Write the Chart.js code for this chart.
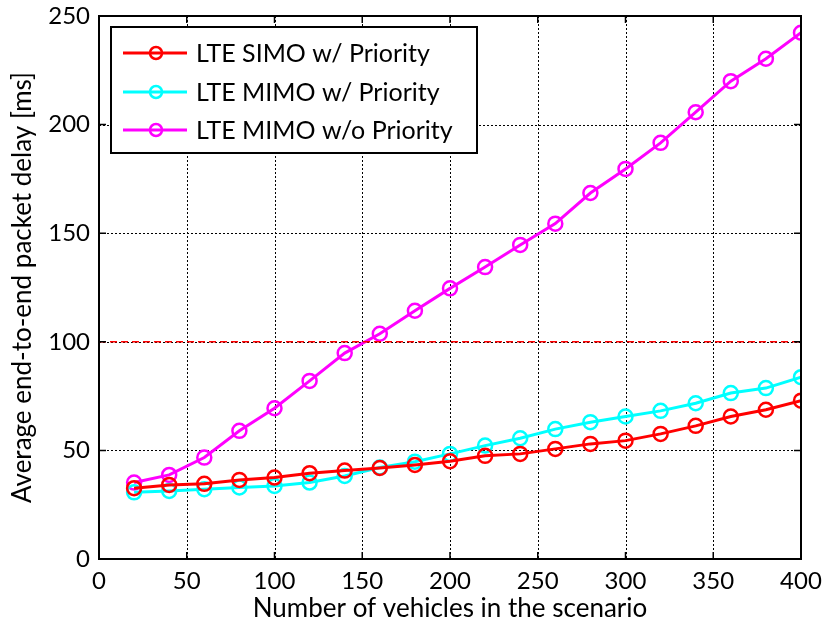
<!DOCTYPE html>
<html>
<head>
<meta charset="utf-8">
<script src="https://cdn.jsdelivr.net/npm/chart.js@4.4.0/dist/chart.umd.min.js"></script>
<style>
  html, body { margin: 0; padding: 0; background: #fff; }
  #wrap { width: 825px; height: 630px; }
</style>
</head>
<body>
<div id="wrap"><canvas id="myChart" width="825" height="630"></canvas></div>
<script>
// vehicles in the scenario
const vehicles = [20, 40, 60, 80, 100, 120, 140, 160, 180, 200, 220, 240, 260, 280, 300, 320, 340, 360, 380, 400];
// average delay [ms]
const simoPrio   = [32.6, 34.1, 34.6, 36.4, 37.5, 39.5, 40.7, 41.9, 43.3, 45.0, 47.5, 48.4, 50.7, 53.0, 54.5, 57.6, 61.3, 65.6, 68.7, 72.9];
const mimoPrio   = [30.7, 31.3, 32.1, 32.9, 33.6, 35.2, 38.2, 42.1, 44.8, 48.4, 52.2, 55.6, 59.8, 63.0, 65.6, 68.2, 71.7, 76.4, 78.7, 83.7];
const mimoNoPrio = [35.2, 38.7, 46.7, 59.0, 69.4, 82.0, 94.8, 103.7, 114.3, 124.6, 134.4, 144.6, 154.4, 168.5, 179.6, 191.6, 205.7, 220.0, 230.3, 242.3];
const limitX = [0, 400];
const limitY = [100, 100];
const xTicks = [0, 50, 100, 150, 200, 250, 300, 350, 400];
const yTicks = [0, 50, 100, 150, 200, 250];
const seriesNames = ['LTE SIMO w/ Priority', 'LTE MIMO w/ Priority', 'LTE MIMO w/o Priority'];
const seriesColors = ['#ff0000', '#00ffff', '#ff00ff'];

const FONT = 'Lato, "Open Sans", sans-serif';

function toPoints(xs, ys) {
  return xs.map(function(x, i) { return { x: x, y: ys[i] }; });
}

function series(i, values) {
  return {
    label: seriesNames[i],
    data: toPoints(vehicles, values),
    borderColor: seriesColors[i],
    backgroundColor: 'rgba(0,0,0,0)',
    borderWidth: 3,
    pointRadius: 7,
    pointBorderWidth: 2.5,
    pointBackgroundColor: 'rgba(0,0,0,0)',
    pointBorderColor: seriesColors[i],
    tension: 0
  };
}

// dotted grid, drawn under the lines
const gridPlugin = {
  id: 'dotgrid',
  beforeDatasetsDraw: function(chart) {
    const ctx = chart.ctx;
    const a = chart.chartArea;
    const xs = chart.scales.x, ys = chart.scales.y;
    ctx.save();
    ctx.strokeStyle = '#000';
    ctx.lineWidth = 1;
    ctx.setLineDash([2, 2]);
    ctx.beginPath();
    xTicks.forEach(function(v) {
      const px = Math.round(xs.getPixelForValue(v)) + 0.5;
      ctx.moveTo(px, a.top); ctx.lineTo(px, a.bottom);
    });
    yTicks.forEach(function(v) {
      const py = Math.round(ys.getPixelForValue(v)) + 0.5;
      ctx.moveTo(a.left, py); ctx.lineTo(a.right, py);
    });
    ctx.stroke();
    ctx.restore();
  }
};

// frame, inward ticks and the legend box
const framePlugin = {
  id: 'frame',
  afterDraw: function(chart) {
    const ctx = chart.ctx;
    const a = chart.chartArea;
    const xs = chart.scales.x, ys = chart.scales.y;
    ctx.save();
    ctx.strokeStyle = '#000';
    ctx.lineWidth = 1.5;
    ctx.setLineDash([]);
    ctx.beginPath();
    xTicks.forEach(function(v) {
      const px = xs.getPixelForValue(v);
      ctx.moveTo(px, a.bottom); ctx.lineTo(px, a.bottom - 7);
      ctx.moveTo(px, a.top); ctx.lineTo(px, a.top + 7);
    });
    yTicks.forEach(function(v) {
      const py = ys.getPixelForValue(v);
      ctx.moveTo(a.left, py); ctx.lineTo(a.left + 7, py);
      ctx.moveTo(a.right, py); ctx.lineTo(a.right - 7, py);
    });
    ctx.stroke();
    ctx.lineWidth = 2;
    ctx.strokeRect(a.left, a.top, a.right - a.left, a.bottom - a.top);

    // legend
    const lx = 111, ly = 27, lw = 366, lh = 126;
    ctx.fillStyle = '#fff';
    ctx.fillRect(lx, ly, lw, lh);
    ctx.lineWidth = 2;
    ctx.strokeRect(lx, ly, lw, lh);
    ctx.font = '25px ' + FONT;
    ctx.textBaseline = 'middle';
    const rows = [53, 92, 130];
    seriesNames.forEach(function(name, i) {
      const y = rows[i];
      ctx.strokeStyle = seriesColors[i];
      ctx.lineWidth = 3;
      ctx.beginPath(); ctx.moveTo(123, y); ctx.lineTo(187, y); ctx.stroke();
      ctx.lineWidth = 2.5;
      ctx.beginPath(); ctx.arc(156, y, 6, 0, Math.PI * 2); ctx.stroke();
      ctx.fillStyle = '#000';
      ctx.fillText(name, 196, y + 1);
    });
    ctx.restore();
  }
};

const ctx = document.getElementById('myChart').getContext('2d');
const myChart = new Chart(ctx, {
  type: 'line',
  data: {
    datasets: [
      {
        label: 'limit',
        data: toPoints(limitX, limitY),
        borderColor: '#ff0000',
        borderWidth: 1.5,
        borderDash: [7, 4],
        pointRadius: 0,
        tension: 0
      },
      series(0, simoPrio),
      series(1, mimoPrio),
      series(2, mimoNoPrio)
    ]
  },
  options: {
    responsive: false,
    animation: false,
    layout: { padding: { left: 0, right: 24, top: 16, bottom: 0 } },
    plugins: { legend: { display: false }, tooltip: { enabled: false } },
    scales: {
      x: {
        type: 'linear',
        min: 0, max: 400,
        afterBuildTicks: function(s) { s.ticks = xTicks.map(function(v) { return { value: v }; }); },
        afterFit: function(s) { s.height = 71; s.paddingLeft = 0; s.paddingRight = 0; },
        grid: { display: false, drawTicks: false },
        border: { display: false },
        ticks: { color: '#000', font: { family: FONT, size: 24 }, padding: 8, maxRotation: 0 },
        title: { display: true, text: 'Number of vehicles in the scenario', color: '#000', font: { family: FONT, size: 26 }, padding: { top: 0, bottom: 6 } }
      },
      y: {
        min: 0, max: 250,
        afterBuildTicks: function(s) { s.ticks = yTicks.map(function(v) { return { value: v }; }); },
        afterFit: function(s) { s.width = 99; s.paddingTop = 0; s.paddingBottom = 0; },
        grid: { display: false, drawTicks: false },
        border: { display: false },
        ticks: { color: '#000', font: { family: FONT, size: 24 }, padding: 9 },
        title: { display: true, text: 'Average end-to-end packet delay [ms]', color: '#000', font: { family: FONT, size: 26 }, padding: { top: 7, bottom: 0 } }
      }
    }
  },
  plugins: [gridPlugin, framePlugin]
});
</script>
</body>
</html>
